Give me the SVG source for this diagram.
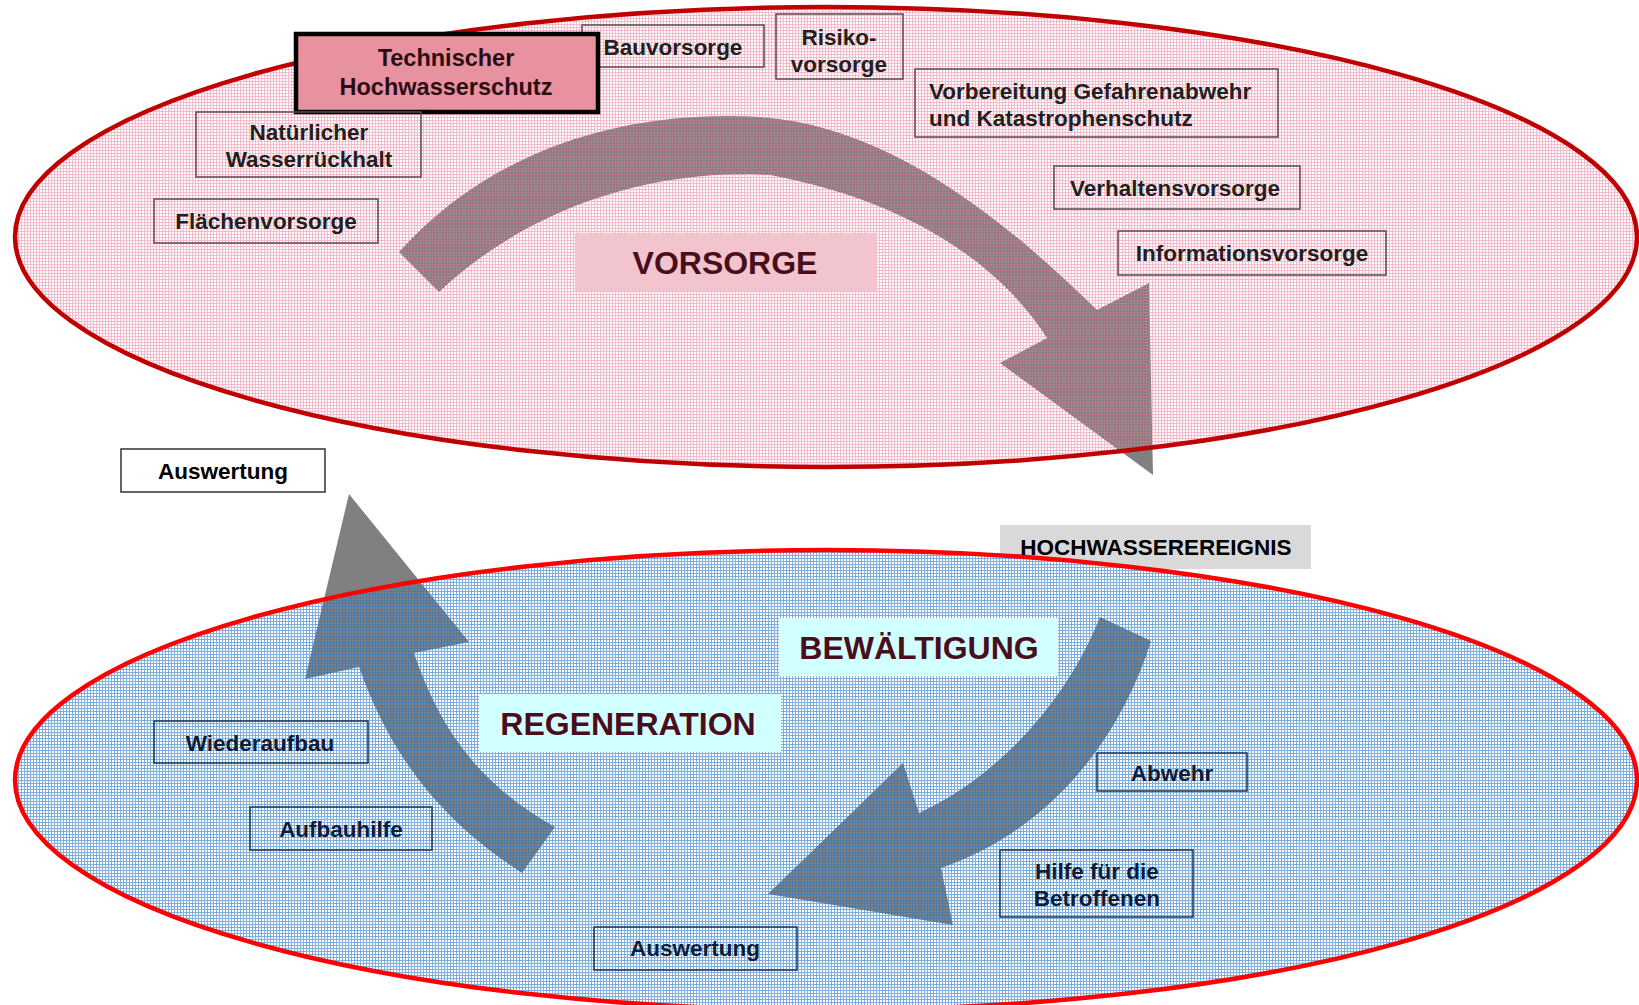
<svg xmlns="http://www.w3.org/2000/svg" width="1639" height="1005" viewBox="0 0 1639 1005">
<defs>
<pattern id="pinkGrid" width="3" height="3" patternUnits="userSpaceOnUse">
<path d="M0,0.5H3M0.5,1V3" stroke="#e8789a" stroke-opacity="0.5" stroke-width="1" fill="none"/>
</pattern>
<pattern id="blueGrid" width="3" height="3" patternUnits="userSpaceOnUse">
<path d="M0,0.5H3M0.5,1V3" stroke="#2878c8" stroke-opacity="0.6" stroke-width="1" fill="none"/>
</pattern>
<style>
.t{font-family:"Liberation Sans",Arial,sans-serif;font-weight:bold;}
.up{font-size:22.5px;fill:#231f20;}
.lo{font-size:22.5px;fill:#0d1c38;}
.big{font-size:32px;fill:#4a0d1c;}
.boxU{fill:none;stroke:#5a4a4e;stroke-width:1.5;}
.boxL{fill:none;stroke:#1c3553;stroke-width:1.5;}
.arrow{fill:#808080;}
</style>
</defs>
<rect width="1639" height="1005" fill="#ffffff"/>

<!-- HOCHWASSEREREIGNIS background (partly covered by lower ellipse) -->
<rect x="1000" y="525" width="311" height="44" fill="#d9d9d9"/>

<!-- ellipse bases -->
<ellipse cx="826" cy="237" rx="811" ry="230" fill="#ffffff"/>
<ellipse cx="826" cy="780" rx="811" ry="230" fill="#ffffff"/>

<g id="connectors">
<path id="arrow-vorsorge" class="arrow" d="M399,252 C500,140 640,110 760,117 C880,125 990,205 1097,310 L1149,283 L1153,475 L1000,363 L1047,338 C1010,280 930,205 770,175 C640,168 520,215 439,292 Z"/>
<path id="arrow-regeneration" class="arrow" d="M414,653 C440,730 480,785 555,827 L522,873 C440,820 390,755 359,667 L305,679 L349,494 L469,642 Z"/>
<path id="arrow-bewaeltigung" class="arrow" d="M1100,617 L1151,641 C1120,740 1050,830 941,868 L953,925 L768,894 L903,763 L919,813 C995,778 1065,705 1100,617 Z"/>
</g>

<g id="phase-vorsorge">
<ellipse cx="826" cy="237" rx="811" ry="230" fill="url(#pinkGrid)" stroke="#c00000" stroke-width="4.5"/>
</g>
<g id="phase-bewaeltigung-regeneration">
<ellipse cx="826" cy="780" rx="811" ry="230" fill="url(#blueGrid)" stroke="#ff0000" stroke-width="4.5"/>
</g>

<!-- upper nodes -->
<g id="node-bauvorsorge">
<rect class="boxU" x="582" y="25" width="182" height="42"/>
<text class="t up" x="673" y="55" text-anchor="middle">Bauvorsorge</text>
</g>
<g id="node-technischer-hochwasserschutz">
<rect x="296" y="34" width="302" height="78" fill="#e8919f" stroke="#000000" stroke-width="4.5"/>
<text class="t up" x="446" y="66" text-anchor="middle" style="font-size:23.5px;fill:#2a0c14">Technischer</text>
<text class="t up" x="446" y="95" text-anchor="middle" style="font-size:23.5px;fill:#2a0c14">Hochwasserschutz</text>
</g>
<g id="node-risikovorsorge">
<rect class="boxU" x="776" y="14" width="127" height="65"/>
<text class="t up" x="839" y="45" text-anchor="middle">Risiko-</text>
<text class="t up" x="839" y="72" text-anchor="middle">vorsorge</text>
</g>
<g id="node-vorbereitung">
<rect class="boxU" x="915" y="69" width="363" height="68"/>
<text class="t up" x="929" y="99">Vorbereitung Gefahrenabwehr</text>
<text class="t up" x="929" y="126">und Katastrophenschutz</text>
</g>
<g id="node-verhaltensvorsorge">
<rect class="boxU" x="1054" y="166" width="246" height="43"/>
<text class="t up" x="1175" y="196" text-anchor="middle">Verhaltensvorsorge</text>
</g>
<g id="node-informationsvorsorge">
<rect class="boxU" x="1118" y="231" width="268" height="44"/>
<text class="t up" x="1252" y="261" text-anchor="middle">Informationsvorsorge</text>
</g>
<g id="node-natuerlicher-wasserrueckhalt">
<rect class="boxU" x="196" y="112" width="225" height="65"/>
<text class="t up" x="309" y="140" text-anchor="middle">Natürlicher</text>
<text class="t up" x="309" y="167" text-anchor="middle">Wasserrückhalt</text>
</g>
<g id="node-flaechenvorsorge">
<rect class="boxU" x="154" y="199" width="224" height="44"/>
<text class="t up" x="266" y="229" text-anchor="middle">Flächenvorsorge</text>
</g>
<g id="label-vorsorge">
<rect x="575" y="233" width="302" height="58" fill="#f2c4cd"/>
<text class="t big" x="725" y="274" text-anchor="middle">VORSORGE</text>
</g>

<g id="node-auswertung-top">
<rect x="121" y="449" width="204" height="43" fill="#ffffff" stroke="#333333" stroke-width="1.5"/>
<text class="t up" x="223" y="479" text-anchor="middle" style="fill:#000000">Auswertung</text>
</g>

<g id="node-hochwasserereignis">
<text class="t" x="1156" y="555" text-anchor="middle" style="font-size:22.5px;fill:#000000">HOCHWASSEREREIGNIS</text>
</g>

<!-- lower nodes -->
<g id="label-bewaeltigung">
<rect x="779" y="618" width="279" height="58" fill="#d2ffff"/>
<text class="t big" x="919" y="659" text-anchor="middle">BEWÄLTIGUNG</text>
</g>
<g id="label-regeneration">
<rect x="479" y="694" width="302" height="58" fill="#d2ffff"/>
<text class="t big" x="628" y="735" text-anchor="middle">REGENERATION</text>
</g>
<g id="node-wiederaufbau">
<rect class="boxL" x="154" y="721" width="214" height="42"/>
<text class="t lo" x="260" y="751" text-anchor="middle">Wiederaufbau</text>
</g>
<g id="node-aufbauhilfe">
<rect class="boxL" x="250" y="807" width="182" height="43"/>
<text class="t lo" x="341" y="837" text-anchor="middle">Aufbauhilfe</text>
</g>
<g id="node-auswertung-bottom">
<rect class="boxL" x="594" y="927" width="203" height="43"/>
<text class="t lo" x="695" y="956" text-anchor="middle">Auswertung</text>
</g>
<g id="node-abwehr">
<rect class="boxL" x="1097" y="753" width="150" height="38"/>
<text class="t lo" x="1172" y="781" text-anchor="middle">Abwehr</text>
</g>
<g id="node-hilfe">
<rect class="boxL" x="1000" y="850" width="193" height="67"/>
<text class="t lo" x="1097" y="879" text-anchor="middle">Hilfe für die</text>
<text class="t lo" x="1097" y="906" text-anchor="middle">Betroffenen</text>
</g>
</svg>
